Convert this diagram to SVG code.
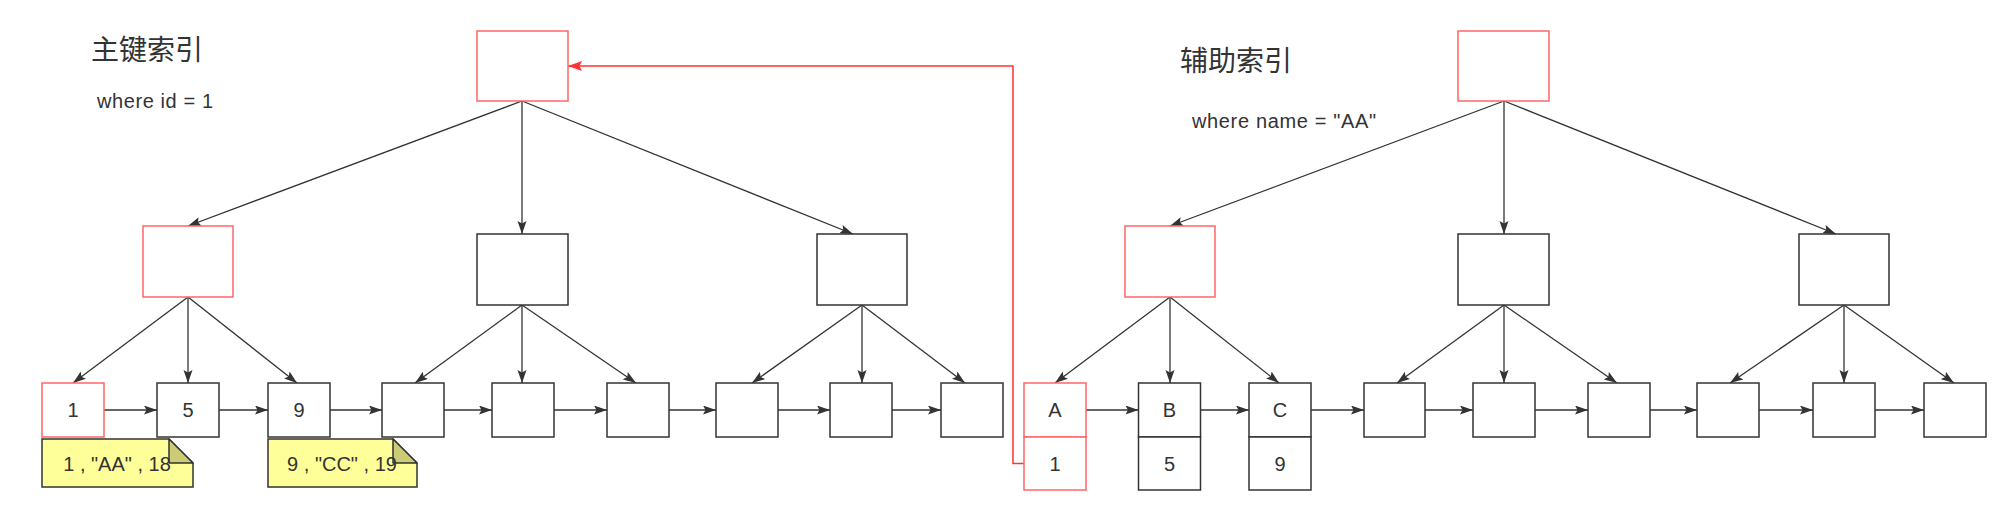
<svg xmlns="http://www.w3.org/2000/svg" width="2010" height="509" viewBox="0 0 2010 509">
<style>
.box{fill:#fff;stroke:#333;stroke-width:1.5}
.rbox{fill:#fff;stroke:#FF6666;stroke-width:1.5}
.edge{fill:none;stroke:#333;stroke-width:1.3;marker-end:url(#arr)}
.redge{fill:none;stroke:#FF3333;stroke-width:1.5;marker-end:url(#rarr)}
.t{font-family:"Liberation Sans","Noto Sans CJK SC",sans-serif;font-size:20px;fill:#333;text-anchor:middle}
.title{font-family:"Noto Sans CJK SC",sans-serif;font-size:28px;fill:#333}
.q{font-family:"Liberation Sans","Noto Sans CJK SC",sans-serif;font-size:20px;fill:#333}
.note{fill:#FFFF99;stroke:#333;stroke-width:1.5}
.fold{fill:#CCCC77;stroke:#333;stroke-width:1.5;stroke-linejoin:round}
</style>
<defs>
<marker id="arr" markerUnits="userSpaceOnUse" markerWidth="14" markerHeight="10" refX="13" refY="4.5" orient="auto"><path d="M0,0 L13,4.5 L0,9 L2.5,4.5 Z" fill="#333"/></marker>
<marker id="rarr" markerUnits="userSpaceOnUse" markerWidth="15" markerHeight="11" refX="14" refY="5" orient="auto"><path d="M0,0 L14,5 L0,10 L2.5,5 Z" fill="#FF3333"/></marker>
</defs>
<rect width="2010" height="509" fill="#fff"/>
<g id="labels">
<text class="title" x="91" y="60">主键索引</text>
<text class="q" x="97" y="107.5" textLength="116">where id = 1</text>
<text class="title" x="1180" y="71">辅助索引</text>
<text class="q" x="1192" y="128" textLength="184">where name = "AA"</text>
</g>
<g id="connectors">
<path class="edge" d="M522,101 L188,226"/>
<path class="edge" d="M522,101 L522,234"/>
<path class="edge" d="M522,101 L853,234"/>
<path class="edge" d="M188,297 L73,383"/>
<path class="edge" d="M188,297 L188,383"/>
<path class="edge" d="M188,297 L297,383"/>
<path class="edge" d="M522,305 L415,383"/>
<path class="edge" d="M522,305 L522,383"/>
<path class="edge" d="M522,305 L636,383"/>
<path class="edge" d="M862,305 L752,383"/>
<path class="edge" d="M862,305 L862,383"/>
<path class="edge" d="M862,305 L965,383"/>
<path class="edge" d="M104,410 L157,410"/>
<path class="edge" d="M219,410 L268,410"/>
<path class="edge" d="M330,410 L382,410"/>
<path class="edge" d="M444,410 L492,410"/>
<path class="edge" d="M554,410 L607,410"/>
<path class="edge" d="M669,410 L716,410"/>
<path class="edge" d="M778,410 L830,410"/>
<path class="edge" d="M892,410 L941,410"/>
<path class="edge" d="M1504,101 L1170,226"/>
<path class="edge" d="M1504,101 L1504,234"/>
<path class="edge" d="M1504,101 L1836,234"/>
<path class="edge" d="M1170,297 L1055,383"/>
<path class="edge" d="M1170,297 L1170,383"/>
<path class="edge" d="M1170,297 L1279,383"/>
<path class="edge" d="M1504,305 L1397,383"/>
<path class="edge" d="M1504,305 L1504,383"/>
<path class="edge" d="M1504,305 L1617,383"/>
<path class="edge" d="M1844,305 L1730,383"/>
<path class="edge" d="M1844,305 L1844,383"/>
<path class="edge" d="M1844,305 L1954,383"/>
<path class="edge" d="M1086,410 L1138.5,410"/>
<path class="edge" d="M1200.5,410 L1249,410"/>
<path class="edge" d="M1311,410 L1364,410"/>
<path class="edge" d="M1425,410 L1473,410"/>
<path class="edge" d="M1535,410 L1588,410"/>
<path class="edge" d="M1650,410 L1697,410"/>
<path class="edge" d="M1759,410 L1813,410"/>
<path class="edge" d="M1875,410 L1924,410"/>
<path class="redge" d="M1024,463.5 H1013 V66 H568"/>
</g>
<g id="pk-root"><rect class="rbox" x="477" y="31" width="91" height="70"/></g>
<g id="pk-l2-a"><rect class="rbox" x="143" y="226" width="90" height="71"/></g>
<g id="pk-l2-b"><rect class="box" x="477" y="234" width="91" height="71"/></g>
<g id="pk-l2-c"><rect class="box" x="817" y="234" width="90" height="71"/></g>
<g id="pk-leaf-1"><rect class="rbox" x="42" y="383" width="62" height="54"/><text class="t" x="73" y="417">1</text></g>
<g id="pk-leaf-2"><rect class="box" x="157" y="383" width="62" height="54"/><text class="t" x="188" y="417">5</text></g>
<g id="pk-leaf-3"><rect class="box" x="268" y="383" width="62" height="54"/><text class="t" x="299" y="417">9</text></g>
<g id="pk-leaf-4"><rect class="box" x="382" y="383" width="62" height="54"/></g>
<g id="pk-leaf-5"><rect class="box" x="492" y="383" width="62" height="54"/></g>
<g id="pk-leaf-6"><rect class="box" x="607" y="383" width="62" height="54"/></g>
<g id="pk-leaf-7"><rect class="box" x="716" y="383" width="62" height="54"/></g>
<g id="pk-leaf-8"><rect class="box" x="830" y="383" width="62" height="54"/></g>
<g id="pk-leaf-9"><rect class="box" x="941" y="383" width="62" height="54"/></g>
<g id="note-1">
<path class="note" d="M42,439 H169 L193,463 V487 H42 Z"/>
<path class="fold" d="M169,439 V463 H193 Z"/>
<text class="t" x="117" y="471">1 , "AA" , 18</text>
</g>
<g id="note-2">
<path class="note" d="M268,439 H393 L417,463 V487 H268 Z"/>
<path class="fold" d="M393,439 V463 H417 Z"/>
<text class="t" x="342" y="471">9 , "CC" , 19</text>
</g>
<g id="sk-root"><rect class="rbox" x="1458" y="31" width="91" height="70"/></g>
<g id="sk-l2-a"><rect class="rbox" x="1125" y="226" width="90" height="71"/></g>
<g id="sk-l2-b"><rect class="box" x="1458" y="234" width="91" height="71"/></g>
<g id="sk-l2-c"><rect class="box" x="1799" y="234" width="90" height="71"/></g>
<g id="sk-leaf-1"><rect class="rbox" x="1024" y="383" width="62" height="54"/><rect class="rbox" x="1024" y="437" width="62" height="53"/><text class="t" x="1055" y="417">A</text><text class="t" x="1055" y="470.5">1</text></g>
<g id="sk-leaf-2"><rect class="box" x="1138.5" y="383" width="62" height="54"/><rect class="box" x="1138.5" y="437" width="62" height="53"/><text class="t" x="1169.5" y="417">B</text><text class="t" x="1169.5" y="470.5">5</text></g>
<g id="sk-leaf-3"><rect class="box" x="1249" y="383" width="62" height="54"/><rect class="box" x="1249" y="437" width="62" height="53"/><text class="t" x="1280" y="417">C</text><text class="t" x="1280" y="470.5">9</text></g>
<g id="sk-leaf-4"><rect class="box" x="1364" y="383" width="61" height="54"/></g>
<g id="sk-leaf-5"><rect class="box" x="1473" y="383" width="62" height="54"/></g>
<g id="sk-leaf-6"><rect class="box" x="1588" y="383" width="62" height="54"/></g>
<g id="sk-leaf-7"><rect class="box" x="1697" y="383" width="62" height="54"/></g>
<g id="sk-leaf-8"><rect class="box" x="1813" y="383" width="62" height="54"/></g>
<g id="sk-leaf-9"><rect class="box" x="1924" y="383" width="62" height="54"/></g>
</svg>
